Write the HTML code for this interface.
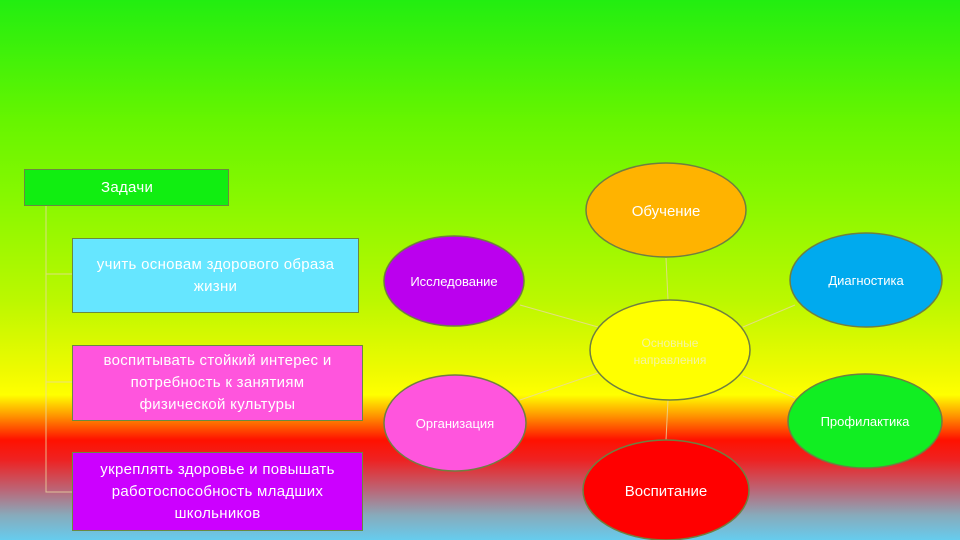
<!DOCTYPE html>
<html><head><meta charset="utf-8"><style>
body{margin:0;width:960px;height:540px;overflow:hidden;font-family:"Liberation Sans",sans-serif;}
.bg{position:absolute;inset:0;background:linear-gradient(to bottom,#22ee11 0px,#66f500 120px,#88f800 200px,#bbf800 300px,#eefa00 370px,#ffff00 395px,#ff9900 415px,#ff1100 440px,#ee2222 460px,#bb6677 490px,#88aabb 515px,#66ccee 540px);}
.box{position:absolute;color:#fff;text-align:center;font-size:15px;line-height:22px;letter-spacing:0.3px;border:1.5px solid #6a8a40;box-sizing:border-box;display:flex;align-items:center;justify-content:center;}
</style></head><body>
<div class="bg"></div>
<svg width="960" height="540" style="position:absolute;left:0;top:0">
<g stroke="#e8d8a0" stroke-width="1" fill="none" opacity="0.8">
<path d="M46 205 V492 H72 M46 274 H72 M46 382 H72"/>
<line x1="666" y1="258" x2="668" y2="300"/>
<line x1="520" y1="305" x2="598" y2="327"/>
<line x1="795" y1="305" x2="743" y2="327"/>
<line x1="520" y1="400" x2="598" y2="373"/>
<line x1="795" y1="398" x2="743" y2="376"/>
<line x1="668" y1="400" x2="666" y2="440"/>
</g>
<g stroke="#6f7f40" stroke-width="1.5">
<ellipse cx="666" cy="210" rx="80" ry="47" fill="#ffb300"/>
<ellipse cx="454" cy="281" rx="70" ry="45" fill="#bb00ee"/>
<ellipse cx="866" cy="280" rx="76" ry="47" fill="#00aaee"/>
<ellipse cx="670" cy="350" rx="80" ry="50" fill="#ffff00"/>
<ellipse cx="455" cy="423" rx="71" ry="48" fill="#ff55dd"/>
<ellipse cx="865" cy="421" rx="77" ry="47" fill="#11ee22"/>
<ellipse cx="666" cy="490" rx="83" ry="50" fill="#ff0000"/>
</g>
<g fill="#fff" font-family="Liberation Sans, sans-serif" text-anchor="middle" font-size="13">
<text x="666" y="216" font-size="15">Обучение</text>
<text x="454" y="286">Исследование</text>
<text x="866" y="285">Диагностика</text>
<text x="670" y="347" font-size="12" fill="#f4f4a0">Основные</text>
<text x="670" y="364" font-size="12" fill="#f4f4a0">направления</text>
<text x="455" y="428">Организация</text>
<text x="865" y="426">Профилактика</text>
<text x="666" y="496" font-size="15">Воспитание</text>
</g>
</svg>
<div class="box" style="left:24px;top:169px;width:205px;height:37px;background:#11ee11;justify-content:flex-start;padding-left:76px;">Задачи</div>
<div class="box" style="left:72px;top:238px;width:287px;height:75px;background:#66e6ff;">учить основам здорового образа<br>жизни</div>
<div class="box" style="left:72px;top:345px;width:291px;height:76px;background:#ff55dd;">воспитывать стойкий интерес и<br>потребность к занятиям<br>физической культуры</div>
<div class="box" style="left:72px;top:452px;width:291px;height:79px;background:#cc00ff;">укреплять здоровье и повышать<br>работоспособность младших<br>школьников</div>
</body></html>
